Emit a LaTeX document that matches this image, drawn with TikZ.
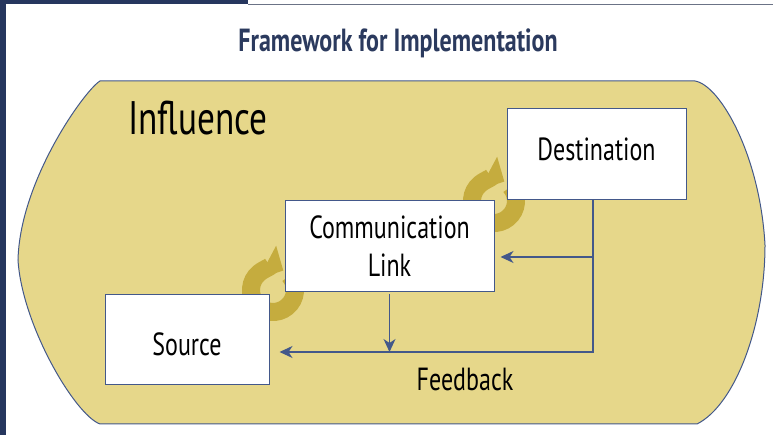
\documentclass[tikz,border=0pt]{standalone}
\usepackage{fontspec}
\setmainfont{PT Sans}[FakeStretch=0.75]
\usetikzlibrary{arrows.meta}
\definecolor{slidenavy}{HTML}{26365E}
\definecolor{rulegrey}{HTML}{6B7386}
\definecolor{titleblue}{HTML}{2B3A5E}
\definecolor{sand}{HTML}{E6D78A}
\definecolor{edgeblue}{HTML}{43588A}
\definecolor{gold}{HTML}{C5AC3E}
\begin{document}
\begin{tikzpicture}[x=1pt,y=1pt,
    box/.style={draw=edgeblue, line width=1pt, fill=white, font=\fontsize{32}{38}\selectfont},
    flow/.style={draw=edgeblue, line width=1.3pt, -{Stealth[length=13pt,width=12pt,inset=4pt]}},
    swirl/.style={draw=gold, line width=18pt, -{Triangle[length=18pt,width=36pt]}}]
\def\blob{(100,354) -- (695,354) .. controls (720,350) and (760,280) .. (765,190)
  .. controls (765,110) and (735,30) .. (697,11) -- (100,11)
  .. controls (75,20) and (22,110) .. (18,175)
  .. controls (20,255) and (85,345) .. (100,354) -- cycle}
\useasboundingbox (0,0) rectangle (773,435);
% slide edges
\fill[slidenavy] (0,0) rectangle (6,435);
\fill[slidenavy] (0,431) rectangle (248,435);
\draw[rulegrey, line width=1.5pt] (248,430.5) -- (773,430.5);
\node[font=\bfseries\fontsize{32}{38}\selectfont, text=titleblue, anchor=base] (heading) at (398,383) {Framework for Implementation};
\filldraw[fill=sand, draw=edgeblue, line width=1pt] \blob;
\node[font=\fontsize{47}{56}\selectfont, anchor=base] (influence) at (198,300) {Influence};
% the two turning arrows sit behind the boxes
\draw[swirl] (273,145) ++(40:22) arc[start angle=40, end angle=-298, radius=22];
\draw[swirl] (494,234) ++(40:22) arc[start angle=40, end angle=-298, radius=22];
\node[box, minimum width=164pt, minimum height=90pt, text height=31pt] (source) at (187,95) {Source};
\node[box, minimum width=209pt, minimum height=91pt, align=center] (link) at (389.5,188.5) {Communication\\Link};
\node[box, minimum width=179pt, minimum height=91pt, text depth=10pt] (dest) at (596.5,280.5) {Destination};
\coordinate (corner) at (593,83);
\coordinate (branch) at (593,178);
\draw[flow, shorten >=10pt] (dest.south -| corner) -- (corner) -- (source.east |- corner);
\draw[flow, shorten >=6pt] (branch) -- (branch -| link.east);
\draw[flow, shorten <=2pt] (link.south) -- (link.south |- corner);
\node[font=\fontsize{32}{38}\selectfont, anchor=base] (feedback) at (465,44) {Feedback};
\end{tikzpicture}
\end{document}
